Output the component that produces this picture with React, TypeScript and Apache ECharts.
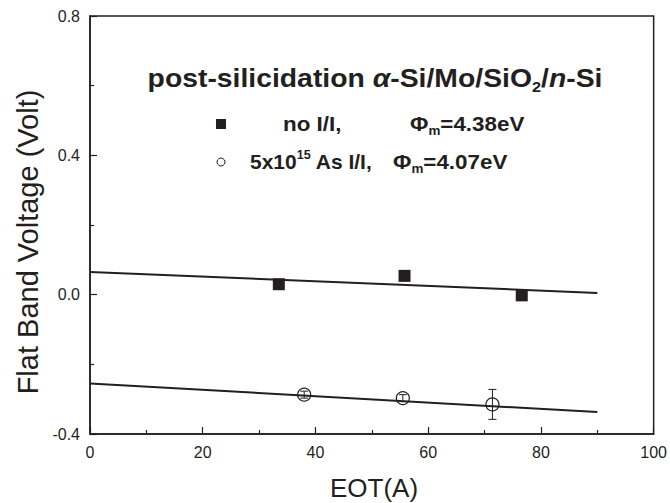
import React, { useEffect, useRef } from "react";
import * as echarts from "echarts";

// ---- data ----
const noIIX = [33.5, 55.8, 76.6];
const noIIY = [0.03, 0.054, -0.002];
const asIIX = [38.0, 55.5, 71.4];
const asIIY = [-0.287, -0.297, -0.315];
const asIIErr = [0.01, 0.01, 0.043];
const fitX = [0, 90];
const fitNoII = [0.065, 0.005];
const fitAsII = [-0.255, -0.337];
const xTickMin = 0;
const xTickMax = 100;
const xTickStep = 20;
const yTickMin = -0.4;
const yTickMax = 0.8;
const yTickStep = 0.4;

const INK = "#231f20";
const FONT = "Liberation Sans, Arial, sans-serif";

export default function App() {
  const ref = useRef<HTMLDivElement>(null);
  useEffect(() => {
    if (!ref.current) return;
    const chart = echarts.init(ref.current, undefined, { renderer: "svg" });
    const errData = asIIX.map((x, i) => [x, asIIY[i], asIIErr[i]]);
    const main = { fontFamily: FONT, fontWeight: "bold", fontSize: 26, lineHeight: 32, fill: INK, verticalAlign: "middle" };
    const legMain = { fontFamily: FONT, fontWeight: "bold", fontSize: 20, lineHeight: 26, fill: INK, verticalAlign: "middle" };
    const sub = { fontFamily: FONT, fontWeight: "bold", fontSize: 12, lineHeight: 12, fill: INK, verticalAlign: "bottom" };
    chart.setOption({
      animation: false,
      backgroundColor: "#ffffff",
      grid: { left: 90, right: 14, top: 16, bottom: 69, show: true, borderColor: INK, borderWidth: 1.5, backgroundColor: "transparent" },
      xAxis: {
        type: "value",
        min: xTickMin,
        max: xTickMax,
        interval: xTickStep,
        axisLine: { onZero: false, lineStyle: { color: INK, width: 1.5 } },
        axisTick: { inside: true, length: 7, lineStyle: { color: INK, width: 1.2 } },
        minorTick: { show: true, splitNumber: 2, length: 4, lineStyle: { color: INK, width: 1.2 } },
        splitLine: { show: false },
        axisLabel: { color: INK, fontFamily: FONT, fontSize: 16, margin: 10 },
      },
      yAxis: {
        type: "value",
        min: yTickMin,
        max: yTickMax,
        interval: yTickStep,
        axisLine: { onZero: false, lineStyle: { color: INK, width: 1.5 } },
        axisTick: { inside: true, length: 7, lineStyle: { color: INK, width: 1.2 } },
        minorTick: { show: true, splitNumber: 2, length: 4, lineStyle: { color: INK, width: 1.2 } },
        splitLine: { show: false },
        axisLabel: { color: INK, fontFamily: FONT, fontSize: 16, margin: 10, formatter: (v: number) => v.toFixed(1) },
      },
      series: [
        {
          name: "fit no I/I",
          type: "line",
          data: fitX.map((x, i) => [x, fitNoII[i]]),
          symbol: "none",
          lineStyle: { color: INK, width: 2 },
          z: 2,
        },
        {
          name: "fit As I/I",
          type: "line",
          data: fitX.map((x, i) => [x, fitAsII[i]]),
          symbol: "none",
          lineStyle: { color: INK, width: 2 },
          z: 2,
        },
        {
          name: "no I/I",
          type: "scatter",
          data: noIIX.map((x, i) => [x, noIIY[i]]),
          symbol: "rect",
          symbolSize: 12,
          itemStyle: { color: INK, opacity: 1 },
          z: 3,
        },
        {
          name: "5x10^15 As I/I",
          type: "scatter",
          data: asIIX.map((x, i) => [x, asIIY[i]]),
          symbol: "circle",
          symbolSize: 13,
          itemStyle: { color: "transparent", borderColor: INK, borderWidth: 1.2, opacity: 1 },
          z: 3,
        },
        {
          name: "error",
          type: "custom",
          data: errData,
          z: 4,
          renderItem: (params: any, api: any) => {
            const x = api.value(0);
            const y = api.value(1);
            const e = api.value(2);
            const top = api.coord([x, y + e]);
            const bot = api.coord([x, y - e]);
            const hw = 4;
            const style = { stroke: INK, lineWidth: 1 };
            return {
              type: "group",
              children: [
                { type: "line", shape: { x1: top[0], y1: top[1], x2: bot[0], y2: bot[1] }, style },
                { type: "line", shape: { x1: top[0] - hw, y1: top[1], x2: top[0] + hw, y2: top[1] }, style },
                { type: "line", shape: { x1: bot[0] - hw, y1: bot[1], x2: bot[0] + hw, y2: bot[1] }, style },
              ],
            };
          },
        },
      ],
      graphic: [
        {
          type: "text",
          x: 28,
          y: 242,
          rotation: Math.PI / 2,
          style: { text: "Flat Band Voltage (Volt)", font: `29px ${FONT}`, fill: INK, textAlign: "center", textVerticalAlign: "middle" },
        },
        {
          type: "text",
          x: 374,
          y: 488,
          style: { text: "EOT(A)", font: `26px ${FONT}`, fill: INK, textAlign: "center", textVerticalAlign: "middle" },
        },
        {
          type: "text",
          x: 375,
          y: 78,
          scaleX: 1.09,
          style: {
            text: "{b|post-silicidation }{i|α}{b|-Si/Mo/SiO}{s|2}{b|/}{i|n}{b|-Si}",
            textAlign: "center",
            textVerticalAlign: "middle",
            rich: {
              b: main,
              i: { ...main, fontStyle: "italic" },
              s: { ...sub, fontSize: 15, lineHeight: 15 },
            },
          },
        },
        { type: "rect", shape: { x: 216, y: 119, width: 10, height: 10 }, style: { fill: INK } },
        { type: "circle", shape: { cx: 221, cy: 162, r: 4 }, style: { fill: "#fff", stroke: INK, lineWidth: 1 } },
        {
          type: "text",
          x: 283,
          y: 124,
          scaleX: 1.12,
          style: { text: "{b|no I/I,}", textAlign: "left", textVerticalAlign: "middle", rich: { b: legMain } },
        },
        {
          type: "text",
          x: 410,
          y: 124,
          scaleX: 1.12,
          style: {
            text: "{b|Φ}{s|m}{b|=4.38eV}",
            textAlign: "left",
            textVerticalAlign: "middle",
            rich: { b: legMain, s: sub },
          },
        },
        {
          type: "text",
          x: 250,
          y: 162,
          scaleX: 1.05,
          style: {
            text: "{b|5x10}{p|15}{b| As I/I,}",
            textAlign: "left",
            textVerticalAlign: "middle",
            rich: { b: legMain, p: { ...sub, verticalAlign: "top" } },
          },
        },
        {
          type: "text",
          x: 393,
          y: 162,
          scaleX: 1.12,
          style: {
            text: "{b|Φ}{s|m}{b|=4.07eV}",
            textAlign: "left",
            textVerticalAlign: "middle",
            rich: { b: legMain, s: sub },
          },
        },
      ],
    });
    return () => chart.dispose();
  }, []);
  return <div ref={ref} style={{ width: 670, height: 503, position: "absolute", left: 0, top: 0 }} />;
}
